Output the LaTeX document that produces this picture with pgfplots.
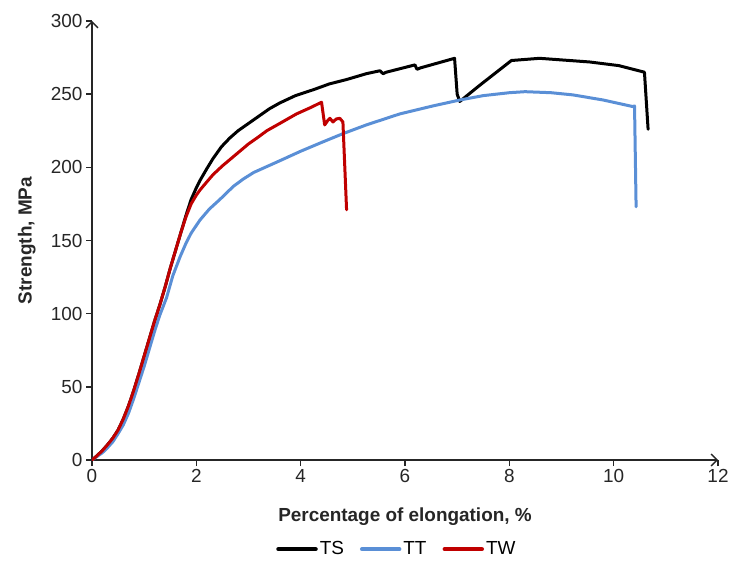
\documentclass[border=0pt]{standalone}
\usepackage{pgfplots}
\pgfplotsset{compat=1.18}
\usepackage{fontspec}
\setmainfont{Liberation Sans}
\usetikzlibrary{arrows.meta}

\definecolor{tscol}{HTML}{000000}
\definecolor{ttcol}{HTML}{5A8FD6}
\definecolor{twcol}{HTML}{C00000}

\begin{document}
\begin{tikzpicture}
% page frame around the axis
\path[use as bounding box] (-92bp,-104bp) rectangle (640bp,460bp);
\begin{axis}[
  at={(0,0)}, anchor=south west,
  scale only axis, width=626bp, height=439bp,
  xmin=0, xmax=12, ymin=0, ymax=300,
  axis x line=bottom, axis y line=left,
  axis line style={line width=1.6bp, black!85, -{Straight Barb[length=6bp,width=12bp,line width=1.4bp]}},
  xtick={0,2,...,12}, ytick={0,50,...,300},
  tick align=outside, major tick length=6bp,
  tick style={line width=1.4bp, black!85},
  /pgf/number format/assume math mode=true,
  ticklabel style={font=\fontsize{19}{22}\selectfont, text=black!85},
  xlabel={\bfseries Percentage of elongation, \%},
  ylabel={\bfseries Strength, MPa},
  label style={font=\fontsize{19}{22}\selectfont, text=black!85},
  xlabel style={at={(axis description cs:0.5,-0.128)}, anchor=center},
  ylabel style={at={(axis description cs:-0.104,0.5)}, anchor=center},
  legend columns=3,
  legend style={at={(axis description cs:0.487,-0.203)}, anchor=center,
    draw=none, fill=none, font=\fontsize{19}{22}\selectfont,
    inner sep=0pt, /tikz/every even column/.append style={column sep=14bp}},
  legend cell align=left,
  legend image code/.code={\draw[#1, line width=4.5bp] (0bp,0bp) -- (37bp,0bp);},
  every axis plot/.append style={line width=3bp, line join=round, line cap=round},
]
% TS
\addplot[tscol] coordinates {
 (0,0) (0.1,3) (0.2,6.5) (0.3,10.5) (0.4,15) (0.5,20.5) (0.6,28) (0.7,37)
 (0.8,47.5) (0.9,59) (1.0,71) (1.1,83) (1.2,95) (1.3,106) (1.4,118) (1.5,131)
 (1.6,143) (1.7,155) (1.8,167) (1.9,178) (2.0,186) (2.07,191) (2.2,199)
 (2.32,206) (2.48,214) (2.64,220) (2.8,225) (2.96,229) (3.2,235) (3.4,240)
 (3.6,244) (3.9,249) (4.24,253) (4.55,257) (4.88,260) (5.26,264) (5.52,266)
 (5.58,264) (5.64,265) (6.19,270) (6.23,267) (6.30,268) (6.95,274.5) (7.00,250)
 (7.05,245) (7.43,256) (8.04,273) (8.58,274.5) (9.54,272) (10.10,269.5)
 (10.59,265) (10.66,226)
};
% TT
\addplot[ttcol] coordinates {
 (0,0) (0.1,2.5) (0.2,5) (0.3,8.5) (0.4,12.5) (0.5,18) (0.6,24) (0.7,32)
 (0.8,42) (0.9,53) (1.0,64) (1.1,76) (1.2,88) (1.3,99) (1.43,111) (1.55,126)
 (1.69,139) (1.8,148) (1.9,155) (2.07,164) (2.25,171.5) (2.45,178) (2.71,187)
 (2.9,192) (3.1,196.5) (3.35,200.5) (3.6,204.5) (4.0,211) (4.4,217) (4.81,223)
 (5.26,229) (5.9,236.5) (6.54,242) (7.05,246) (7.5,249) (8.0,251) (8.3,251.7)
 (8.8,251) (9.22,249.5) (9.8,246) (10.37,241.5) (10.40,242) (10.43,173)
};
% TW
\addplot[twcol] coordinates {
 (0,0) (0.1,3) (0.2,6.5) (0.3,10.5) (0.4,15) (0.5,20.5) (0.6,28) (0.7,37)
 (0.8,47.5) (0.9,59) (1.0,71) (1.1,83) (1.2,95) (1.3,106) (1.4,118) (1.5,131)
 (1.6,143) (1.7,155) (1.8,166) (1.9,175) (2.0,181) (2.07,184.5) (2.2,190)
 (2.32,195) (2.5,201) (2.7,207) (2.85,211.5) (3.0,216) (3.2,221) (3.35,225)
 (3.6,230) (3.92,236.5) (4.2,241) (4.40,244.5) (4.46,229) (4.52,232)
 (4.56,233.5) (4.62,231) (4.68,233) (4.75,233.5) (4.81,231) (4.88,171)
};
\legend{TS,TT,TW}
\end{axis}
\end{tikzpicture}
\end{document}
